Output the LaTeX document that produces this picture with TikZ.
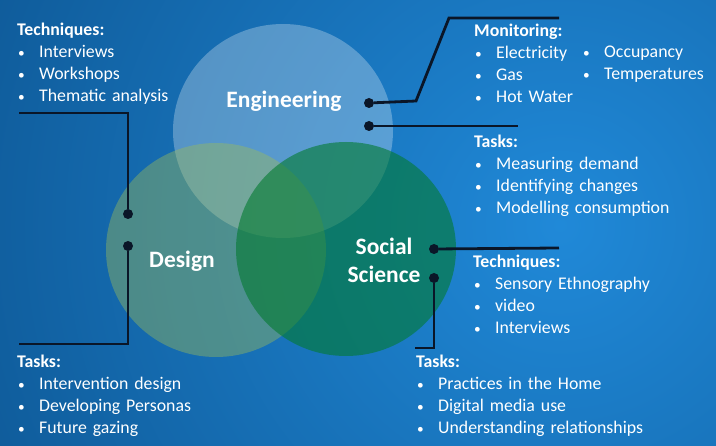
\documentclass[tikz,border=0pt]{standalone}
\usepackage{fontspec}
\setmainfont{Carlito}
\usepackage{tikz}
\usetikzlibrary{shapes,arrows}
\definecolor{bgdark}{HTML}{0A4E88}
\definecolor{bglight}{HTML}{2089D8}
\definecolor{linecol}{HTML}{0A1628}
\definecolor{designgreen}{HTML}{9BBB59}
\definecolor{socialgreen}{HTML}{037A30}
\tikzstyle{dot} = [circle, fill=linecol, inner sep=0pt, minimum size=10pt]
\tikzstyle{line} = [draw=linecol, line width=2.8pt]
\tikzstyle{list} = [anchor=base west, inner sep=0pt, text width=260pt, align=left,
    text=white, font=\fontsize{17.8}{21.7}\selectfont]
\tikzstyle{area} = [anchor=base, inner sep=0pt, text width=140pt, align=center,
    text=white, font=\bfseries\fontsize{23.5}{28}\selectfont]
\newcommand{\itm}[1]{\makebox[22pt][l]{\hspace{1pt}\scalebox{0.75}{\textbullet}}#1}

\begin{document}
\begin{tikzpicture}[x=1pt, y=-1pt]
    \useasboundingbox (0,0) rectangle (716,446);
    \begin{scope}
        \clip (0,0) rectangle (716,446);
        \shade [inner color=bglight, outer color=bgdark] (560,225) circle (800pt);
    \end{scope}
    \fill [white, fill opacity=0.28] (283,131) ellipse (110pt and 107pt);
    \fill [designgreen, fill opacity=0.42] (216,250) ellipse (110pt and 107pt);
    \fill [socialgreen, fill opacity=0.6] (346,249) ellipse (110pt and 107pt);
    \node [area] (eng) at (284,108) {Engineering};
    \node [area] (des) at (182,268) {Design};
    \node [area] (soc) at (384,255) {Social\\ Science};
    \node [dot] (engA) at (369,103) {};
    \node [dot] (engB) at (369,126) {};
    \node [dot] (desA) at (128,214) {};
    \node [dot] (desB) at (128,246) {};
    \node [dot] (socA) at (434,249) {};
    \node [dot] (socB) at (434,278) {};
    \coordinate (desA1) at (128,113);
    \coordinate (desA2) at (19,113);
    \coordinate (desB1) at (128,344);
    \coordinate (desB2) at (19,344);
    \coordinate (engA1) at (416,101);
    \coordinate (engA2) at (449,18);
    \coordinate (engA3) at (559,18);
    \coordinate (engB1) at (518,126);
    \coordinate (socA1) at (559,248);
    \coordinate (socB1) at (434,348);
    \coordinate (socB2) at (415,348);
    \path [line] (desA) -- (desA1) -- (desA2);
    \path [line] (desB) -- (desB1) -- (desB2);
    \path [line] (engA) -- (engA1) -- (engA2) -- (engA3);
    \path [line] (engB) -- (engB1);
    \path [line] (socA) -- (socA1);
    \path [line] (socB) -- (socB1) -- (socB2);
    \node [list] (techD) at (17,36) {\textbf{Techniques:}\\ \itm{Interviews}\\ \itm{Workshops}\\ \itm{Thematic analysis}};
    \node [list] (taskD) at (17,368) {\textbf{Tasks:}\\ \itm{Intervention design}\\ \itm{Developing Personas}\\ \itm{Future gazing}};
    \node [list] (monE) at (474,37) {\textbf{Monitoring:}\\ \itm{Electricity}\\ \itm{Gas}\\ \itm{Hot Water}};
    \node [list] (monE2) at (582,58) {\itm{Occupancy}\\ \itm{Temperatures}};
    \node [list] (taskE) at (474,148) {\textbf{Tasks:}\\ \itm{Measuring demand}\\ \itm{Identifying changes}\\ \itm{Modelling consumption}};
    \node [list] (techS) at (473,268) {\textbf{Techniques:}\\ \itm{Sensory Ethnography}\\ \itm{video}\\ \itm{Interviews}};
    \node [list] (taskS) at (416,368) {\textbf{Tasks:}\\ \itm{Practices in the Home}\\ \itm{Digital media use}\\ \itm{Understanding relationships}};
\end{tikzpicture}
\end{document}
